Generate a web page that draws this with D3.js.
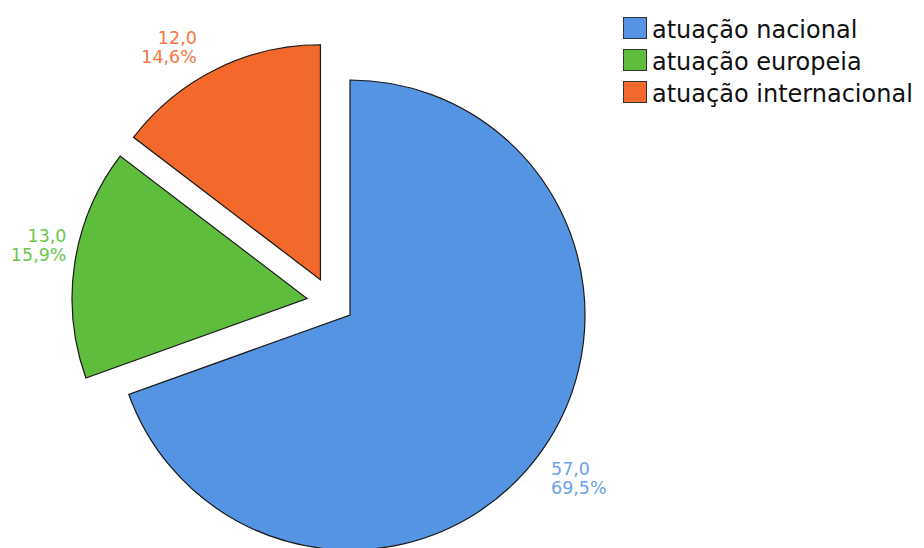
<!DOCTYPE html>
<html>
<head>
<meta charset="utf-8">
<script src="https://cdn.jsdelivr.net/npm/d3@7"></script>
<style>
  html, body { margin: 0; padding: 0; background: #fff; }
  svg { display: block; }
  text { font-family: "DejaVu Sans", Verdana, sans-serif; }
</style>
</head>
<body>
<svg id="chart" width="924" height="548"></svg>
<script>
// Categories and counts
const categories = ["atuação nacional", "atuação europeia", "atuação internacional"];
const counts = [57, 13, 12];
const fills = ["#5594e3", "#5ebd3d", "#f3692b"];
const labelColors = ["#6aa2ea", "#6cc74e", "#f47843"];

// Exploded slices: distance and direction (degrees, clockwise from 12 o'clock)
const explodeDist = [0, 46, 46];
const explodeDir = [0, 291, 320];
// Small nudges for the value labels
const labelNudge = [[-1, 18], [3.5, -18.5], [-14, -14]];

const W = 924, H = 548;
const cx = 350, cy = 315, R = 235;

const svg = d3.select("#chart");
const total = d3.sum(counts);
const fmt = v => v.toFixed(1).replace(".", ",");

const pie = d3.pie().value(d => d).sort(null);
const arcs = pie(counts);
const arc = d3.arc().innerRadius(0).outerRadius(R);

const g = svg.append("g").attr("transform", `translate(${cx},${cy})`);

arcs.forEach((a, i) => {
  const t = explodeDir[i] * Math.PI / 180;
  const ox = explodeDist[i] * Math.sin(t);
  const oy = -explodeDist[i] * Math.cos(t);
  const sg = g.append("g").attr("transform", `translate(${ox},${oy})`);
  sg.append("path")
    .attr("d", arc(a))
    .attr("fill", fills[i])
    .attr("stroke", "#1a1a1a")
    .attr("stroke-width", 1.2)
    .attr("stroke-linejoin", "miter");

  // value labels outside the slice along its mid-angle
  const mid = (a.startAngle + a.endAngle) / 2;
  const lr = R + 12;
  const lx = lr * Math.sin(mid) + labelNudge[i][0];
  const ly = -lr * Math.cos(mid) + labelNudge[i][1];
  const anchor = Math.sin(mid) >= 0 ? "start" : "end";
  const txt = sg.append("text")
    .attr("x", lx).attr("y", ly)
    .attr("text-anchor", anchor)
    .attr("fill", labelColors[i])
    .style("font-size", "17.5px");
  txt.append("tspan").attr("x", lx).text(fmt(counts[i]));
  txt.append("tspan").attr("x", lx).attr("dy", 19)
    .text(fmt(counts[i] / total * 100) + "%");
});

// Legend
const legend = svg.append("g").attr("transform", "translate(623,17)");
categories.forEach((c, i) => {
  const row = legend.append("g").attr("transform", `translate(0,${i * 32})`);
  row.append("rect")
    .attr("x", 0.5).attr("y", 0.5)
    .attr("width", 23).attr("height", 21)
    .attr("fill", fills[i])
    .attr("stroke", "#333")
    .attr("stroke-width", 1);
  row.append("text")
    .attr("x", 29).attr("y", 21)
    .attr("fill", "#111")
    .style("font-size", "24px")
    .text(c);
});
</script>
</body>
</html>
